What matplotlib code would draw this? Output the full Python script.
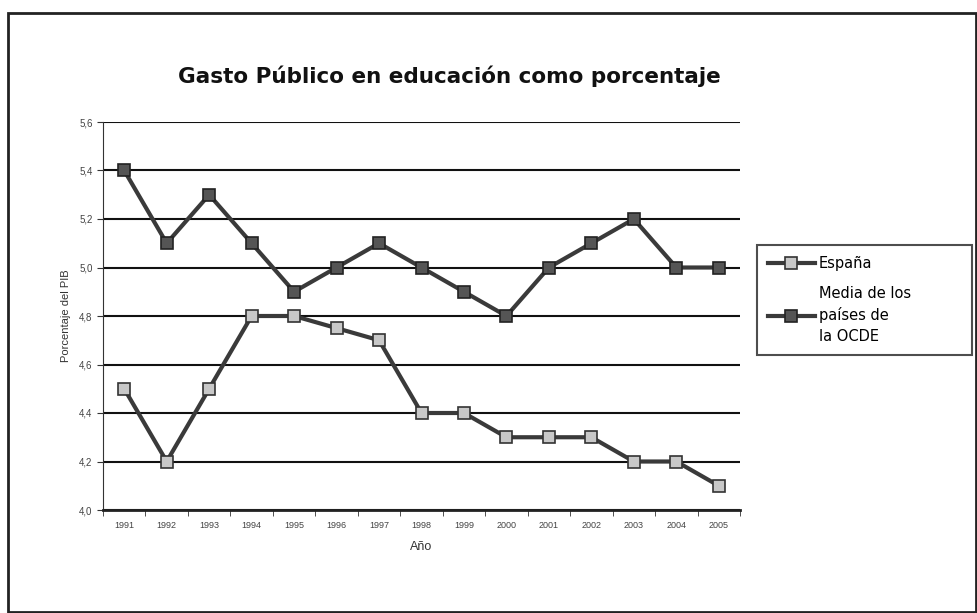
import matplotlib
matplotlib.use("Agg")
import matplotlib.pyplot as plt
from matplotlib.patches import Rectangle

plt.rcParams['font.family'] = ['Liberation Sans', 'DejaVu Sans']

years = ["1991", "1992", "1993", "1994", "1995", "1996", "1997", "1998",
         "1999", "2000", "2001", "2002", "2003", "2004", "2005"]
espana = [4.5, 4.2, 4.5, 4.8, 4.8, 4.75, 4.7, 4.4, 4.4, 4.3, 4.3, 4.3, 4.2, 4.2, 4.1]
ocde = [5.4, 5.1, 5.3, 5.1, 4.9, 5.0, 5.1, 5.0, 4.9, 4.8, 5.0, 5.1, 5.2, 5.0, 5.0]
yticks = [4.0, 4.2, 4.4, 4.6, 4.8, 5.0, 5.2, 5.4, 5.6]
ytick_labels = ["4,0", "4,2", "4,4", "4,6", "4,8", "5,0", "5,2", "5,4", "5,6"]

W, H = 978, 613
fig = plt.figure(figsize=(W / 100, H / 100), dpi=100)
fig.patch.set_facecolor("white")

# outer chart frame
fig.add_artist(Rectangle((8 / W, 0.002), (W - 10) / W, (H - 14) / H,
                         transform=fig.transFigure, fill=False,
                         edgecolor="#222222", linewidth=2.0))

ax = fig.add_axes([103 / W, 1 - 510 / H, (740 - 103) / W, (510 - 122) / H])
x = list(range(len(years)))
line_col = "#3a3a3a"
ax.plot(x, ocde, color=line_col, lw=3, marker="s", ms=8.5,
        mfc="#555555", mec="#222222", mew=1.2,
        label="Media de los\npaíses de\nla OCDE", zorder=4)
ax.plot(x, espana, color=line_col, lw=3, marker="s", ms=8.5,
        mfc="#c8c8c8", mec="#333333", mew=1.2,
        label="España", zorder=4)

ax.set_xlim(-0.5, len(years) - 0.5)
ax.set_ylim(4.0, 5.6)
ax.set_yticks(yticks)
ax.set_yticklabels(ytick_labels, fontsize=7, color="#444444")
ax.set_xticks(x)
ax.set_xticklabels(years, fontsize=6.5, color="#444444")
ax.set_xticks([i - 0.5 for i in range(len(years) + 1)], minor=True)
ax.tick_params(axis="x", which="major", length=0, pad=8)
ax.tick_params(axis="x", which="minor", length=4, color="#333333")
ax.tick_params(axis="y", length=4, color="#333333")
ax.yaxis.grid(True, color="#111111", lw=1.5)
ax.set_axisbelow(True)
for s in ["top", "right"]:
    ax.spines[s].set_visible(False)
ax.spines["left"].set_color("#333333")
ax.spines["bottom"].set_color("#222222")
ax.spines["bottom"].set_linewidth(2)

ax.set_ylabel("Porcentaje del PIB", fontsize=8, color="#333333", labelpad=6)
ax.set_xlabel("Año", fontsize=9, color="#333333", labelpad=8)
fig.text(449 / W, 1 - 76 / H, "Gasto Público en educación como porcentaje",
         ha="center", va="center", fontsize=15.5, fontweight="bold",
         family=["DejaVu Sans"], color="#111111")

handles, labels = ax.get_legend_handles_labels()
leg = fig.legend(handles[::-1], labels[::-1], loc="upper left",
                 bbox_to_anchor=(757 / W, 1 - 357 / H, 215 / W, 112 / H),
                 mode="expand", prop={"family": "DejaVu Sans", "size": 10.5},
                 frameon=True, fancybox=False, edgecolor="#222222",
                 handlelength=3.2, borderpad=0.75, labelspacing=1.0,
                 handletextpad=0.3, borderaxespad=0)
for t in leg.get_texts():
    t.set_linespacing(1.5)
leg.get_frame().set_linewidth(1.5)

fig.savefig("out.png", dpi=100)
